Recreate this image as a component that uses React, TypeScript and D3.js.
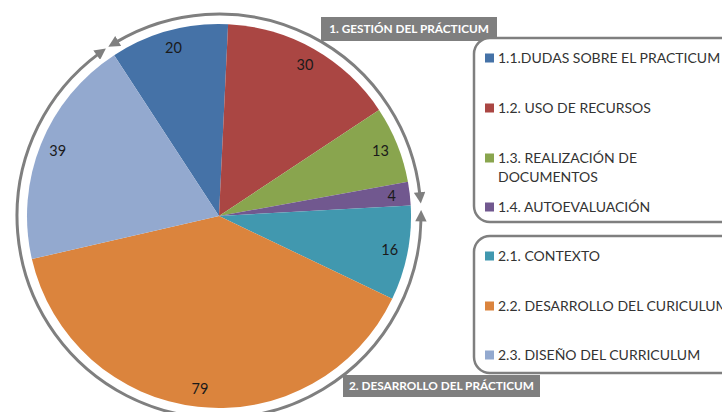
import React, { useEffect, useRef } from "react";
import * as d3 from "d3";

const categories = [
  "1.1.DUDAS SOBRE EL PRACTICUM",
  "1.2. USO DE RECURSOS",
  "1.3. REALIZACIÓN DE|DOCUMENTOS",
  "1.4. AUTOEVALUACIÓN",
  "2.1. CONTEXTO",
  "2.2. DESARROLLO DEL CURICULUM",
  "2.3. DISEÑO DEL CURRICULUM",
];
const values = [20, 30, 13, 4, 16, 79, 39];
const colors = ["#4572A7", "#AA4643", "#89A54E", "#71588F", "#4198AF", "#DB843D", "#93A9CF"];
const groups = ["1. GESTIÓN DEL PRÁCTICUM", "2. DESARROLLO DEL PRÁCTICUM"];
// which slices each group bracket covers
const groupSlices = [[0, 3], [4, 6]];

const W = 722, H = 412;
const deg = Math.PI / 180;

const App = () => {
  const svgRef = useRef<SVGSVGElement>(null);

  useEffect(() => {
    const svg = d3.select(svgRef.current);
    svg.selectAll("*").remove();

    const cx = 219, cy = 216, R = 192;
    const startAngle = -33.1 * deg;

    const pie = d3.pie<number>().sort(null).value(d => d)
      .startAngle(startAngle).endAngle(startAngle + 2 * Math.PI);
    const arcs = pie(values);
    const arc = d3.arc<d3.PieArcDatum<number>>().innerRadius(0).outerRadius(R);
    const labelArc = d3.arc<d3.PieArcDatum<number>>().innerRadius(174).outerRadius(174);

    const defs = svg.append("defs");
    defs.append("marker")
      .attr("id", "arrow")
      .attr("viewBox", "0 0 10 10")
      .attr("refX", 2).attr("refY", 5)
      .attr("markerWidth", 4).attr("markerHeight", 3.8)
      .attr("markerUnits", "strokeWidth")
      .attr("orient", "auto-start-reverse")
      .append("path").attr("d", "M0,0 L10,5 L0,10 z").attr("fill", "#7f7f7f");

    const g = svg.append("g").attr("transform", `translate(${cx},${cy})`);

    g.selectAll("path.slice").data(arcs).join("path")
      .attr("class", "slice")
      .attr("d", arc)
      .attr("fill", (_, i) => colors[i]);

    g.selectAll("text.lbl").data(arcs).join("text")
      .attr("class", "lbl")
      .attr("transform", d => `translate(${labelArc.centroid(d)})`)
      .attr("text-anchor", "middle")
      .attr("dy", "0.35em")
      .attr("font-family", "Lato, 'Open Sans', sans-serif")
      .attr("font-size", 14.5)
      .attr("fill", "#1a1a1a")
      .text(d => d.data);

    // brackets round the pie, one per group
    const rb = 202;
    const pad = [[2.5, -3], [4, -3.5]]; // degrees trimmed at start / end
    groupSlices.forEach(([a, b], gi) => {
      const a0 = arcs[a].startAngle + pad[gi][0] * deg;
      const a1 = arcs[b].endAngle + pad[gi][1] * deg;
      const p = d3.path();
      p.arc(0, 0, rb, a0 - Math.PI / 2, a1 - Math.PI / 2, false);
      g.append("path")
        .attr("d", p.toString())
        .attr("fill", "none")
        .attr("stroke", "#7f7f7f")
        .attr("stroke-width", 3)
        .attr("marker-start", "url(#arrow)")
        .attr("marker-end", "url(#arrow)");
    });

    // group title boxes
    const titleBoxes = [
      { x: 321, y: 17, w: 176, h: 24 },
      { x: 343, y: 375, w: 197, h: 22 },
    ];
    titleBoxes.forEach((b, i) => {
      svg.append("rect").attr("x", b.x).attr("y", b.y).attr("width", b.w).attr("height", b.h)
        .attr("fill", "#7f7f7f");
      svg.append("text")
        .attr("x", b.x + b.w / 2).attr("y", b.y + b.h / 2)
        .attr("dy", "0.35em")
        .attr("text-anchor", "middle")
        .attr("font-family", "Lato, 'Open Sans', sans-serif")
        .attr("font-weight", "bold")
        .attr("font-size", 11.8)
        .attr("fill", "#ffffff")
        .text(groups[i]);
    });

    // legend boxes
    const legendBoxes = [
      { y: 38, h: 184 },
      { y: 236, h: 137 },
    ];
    legendBoxes.forEach(b => {
      svg.append("rect").attr("x", 474).attr("y", b.y).attr("width", 270).attr("height", b.h)
        .attr("rx", 16).attr("ry", 16)
        .attr("fill", "#fff")
        .attr("stroke", "#7f7f7f").attr("stroke-width", 2.5);
    });

    const itemY = [58, 108, 158, 207, 256, 306, 355];
    categories.forEach((c, i) => {
      const y = itemY[i];
      svg.append("rect").attr("x", 485).attr("y", y - 4.5).attr("width", 9).attr("height", 9)
        .attr("fill", colors[i]);
      const t = svg.append("text")
        .attr("x", 498).attr("y", y)
        .attr("font-family", "Lato, 'Open Sans', sans-serif")
        .attr("font-size", 14)
        .attr("fill", "#333333");
      c.split("|").forEach((line, li) => {
        t.append("tspan").attr("x", 498).attr("dy", li === 0 ? "0.35em" : 19).text(line);
      });
    });
  }, []);

  return (
    <svg ref={svgRef} width={W} height={H}
      style={{ position: "absolute", left: 0, top: 0, background: "#fff" }} />
  );
};

export default App;
